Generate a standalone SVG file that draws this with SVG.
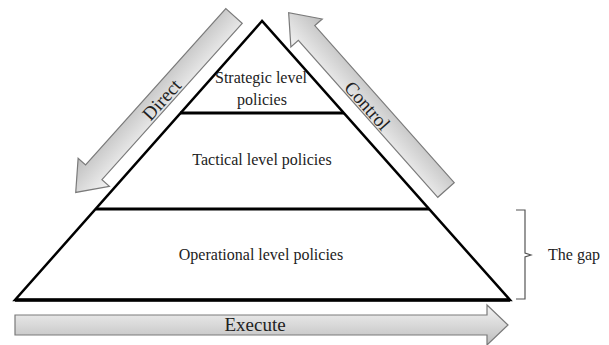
<svg xmlns="http://www.w3.org/2000/svg" width="609" height="345" viewBox="0 0 609 345">
<defs>
<linearGradient id="g" x1="0" y1="0" x2="0" y2="1">
<stop offset="0" stop-color="#f4f4f4"/>
<stop offset="1" stop-color="#bdbdbd"/>
</linearGradient>
<style>
.arr{fill:url(#g);stroke:#7a7a7a;stroke-width:1.2}
.t{font-family:"Liberation Serif","Times New Roman",serif;fill:#222;text-anchor:middle}
.s{font-size:16px}
.b{font-size:19px}
.edge{fill:none;stroke:#000;stroke-width:2.5;stroke-linejoin:miter}
</style>
</defs>
<rect width="609" height="345" fill="#fff"/>
<g id="pyramid">
<polygon class="edge" points="262,21 15,300 510,300"/>
<line x1="180" y1="113" x2="344" y2="113" stroke="#000" stroke-width="3"/>
<line x1="96" y1="209" x2="429" y2="209" stroke="#000" stroke-width="3"/>
<line x1="15" y1="300" x2="510" y2="300" stroke="#000" stroke-width="3.5"/>
</g>
<g id="strategic"><text class="t s" x="261" y="83">Strategic level</text><text class="t s" x="262" y="105">policies</text></g>
<g id="tactical"><text class="t s" x="262" y="165">Tactical level policies</text></g>
<g id="operational"><text class="t s" x="261" y="260">Operational level policies</text></g>
<g id="connectors">
<g id="direct" transform="translate(234,16) rotate(131.9)">
<polygon class="arr" points="0,-11 210,-11 210,-21 237,0 210,21 210,11 0,11"/>
</g>
<g id="control" transform="translate(446,190) rotate(-131.6)">
<polygon class="arr" points="0,-11 210,-11 210,-21 237,0 210,21 210,11 0,11"/>
</g>
<polygon id="execute" class="arr" points="15,315 487,315 487,305 508,325 487,345 487,335 15,335"/>
<path id="gap" d="M516,210 H525 V253 L531,255 L525,257 V299 H516" fill="none" stroke="#555" stroke-width="1.2"/>
</g>
<text class="t b" transform="translate(162,100) rotate(-48.1)" dy="6">Direct</text>
<text class="t b" transform="translate(367,106) rotate(48.4)" dy="6">Control</text>
<text class="t b" x="255" y="331">Execute</text>
<text class="t s" x="574" y="260">The gap</text>
</svg>
